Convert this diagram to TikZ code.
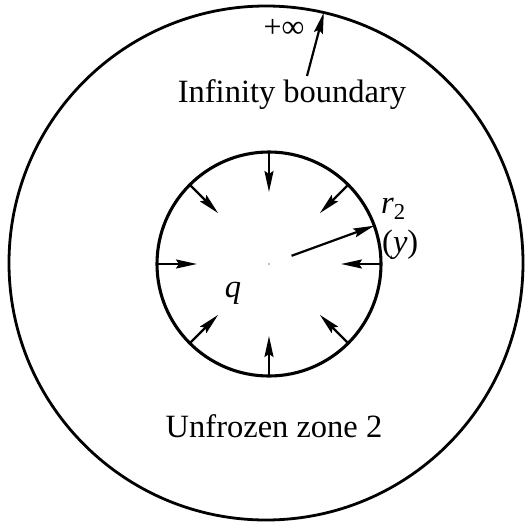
\documentclass[tikz,border=0pt]{standalone}
\usepackage{fontspec}
\setmainfont{Liberation Serif}
\usetikzlibrary{arrows.meta,calc}
\begin{document}
\begin{tikzpicture}[x=1pt,y=-1pt,
  ring/.style={circle,draw,line width=2.8pt,inner sep=0pt,outer sep=0pt},
  flux/.style={line width=2.2pt,-{Stealth[length=21pt,width=9pt,inset=3pt]}},
  lbl/.style={inner sep=0pt,font=\fontsize{32.5}{38}\selectfont},
  small/.style={inner sep=0pt,font=\fontsize{32}{36}\selectfont}]
\useasboundingbox (0,0) rectangle (525,525);
\node[ring,minimum size=514pt] (outer) at (266,263) {};
\node[ring,line width=3.1pt,minimum size=224pt] (inner) at (269,264) {};
\fill[gray] (inner.center) circle (0.8pt);
\foreach \a in {0,45,...,315}{
  \coordinate (t\a) at ($(inner.center)+(\a:72pt)$);
  \draw[flux] (inner.\a) -- (t\a);
}
\coordinate (rs) at ($(inner.center)+(20:24pt)$);
\draw[flux] (rs) -- (inner.20);
\coordinate (ib) at (307,76);
\draw[flux] (ib) -- (outer.77.4);
\node[lbl,anchor=base] (infb) at (292,102) {Infinity boundary};
\node[lbl,anchor=base] (unf) at (274,437) {Unfrozen zone 2};
\node[small,anchor=base] (pinf) at (284,37) {+∞};
\node[lbl,anchor=base west] (r2) at (381,213) {\textit{r}\textsubscript{2}};
\node[lbl,anchor=base west] (yl) at (382,252) {(\textit{y})};
\node[lbl,anchor=base] (q) at (233,297) {\textit{q}};
\end{tikzpicture}
\end{document}
